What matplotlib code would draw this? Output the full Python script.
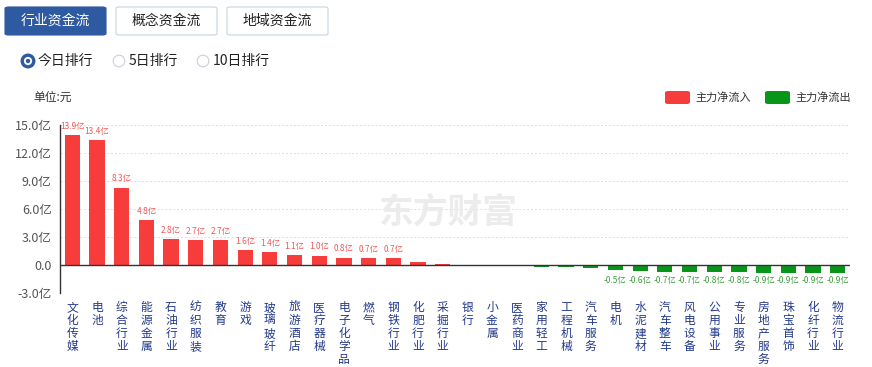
import matplotlib.pyplot as plt
from matplotlib.patches import FancyBboxPatch, Circle
from matplotlib.ticker import FuncFormatter, FixedLocator

plt.rcParams['font.family'] = ['Noto Sans CJK SC', 'DejaVu Sans']

# --- data ---
industries = ['文化传媒', '电池', '综合行业', '能源金属', '石油行业', '纺织服装', '教育', '游戏',
              '玻璃玻纤', '旅游酒店', '医疗器械', '电子化学品', '燃气', '钢铁行业', '化肥行业', '采掘行业',
              '银行', '小金属', '医药商业', '家用轻工', '工程机械', '汽车服务', '电机', '水泥建材',
              '汽车整车', '风电设备', '公用事业', '专业服务', '房地产服务', '珠宝首饰', '化纤行业', '物流行业']
net_flow = [13.9, 13.4, 8.3, 4.8, 2.8, 2.7, 2.7, 1.6,
            1.4, 1.1, 1.0, 0.8, 0.7, 0.7, 0.35, 0.15,
            0.03, 0.01, -0.05, -0.2, -0.25, -0.35, -0.5, -0.6,
            -0.7, -0.7, -0.8, -0.8, -0.9, -0.9, -0.9, -0.9]
y_ticks = [-3, 0, 3, 6, 9, 12, 15]
tabs = ['行业资金流', '概念资金流', '地域资金流']
ranks = ['今日排行', '5日排行', '10日排行']

red = '#f73c3c'
green = '#08961a'

fig = plt.figure(figsize=(8.72, 3.67), dpi=100)
W, H = 872, 367

def fx(px):
    return px / W

def fy(py):
    return 1 - py / H

# --- top tabs ---
tab_x = [5, 116, 227]
for i, (t, x0) in enumerate(zip(tabs, tab_x)):
    active = i == 0
    box = FancyBboxPatch((fx(x0), fy(35)), fx(101), 28 / H,
                         boxstyle='round,pad=0,rounding_size=0.004',
                         transform=fig.transFigure,
                         facecolor='#2d5aa0' if active else 'white',
                         edgecolor='#2d5aa0' if active else '#c9d3e0', linewidth=0.8)
    fig.patches.append(box)
    fig.text(fx(x0 + 50.5), fy(21), t, ha='center', va='center', fontsize=10,
             color='white' if active else '#222222')

# --- radio buttons (drawn in inches so they stay round) ---
radio_x = [28, 119, 203]
for i, (r, x0) in enumerate(zip(ranks, radio_x)):
    cx, cy = x0 / 100, (H - 61) / 100
    fig.patches.append(Circle((cx, cy), 0.058, transform=fig.dpi_scale_trans,
                              facecolor='white', edgecolor='#2d5aa0' if i == 0 else '#c8d0dc',
                              linewidth=2.4 if i == 0 else 0.8))
    if i == 0:
        fig.patches.append(Circle((cx, cy), 0.022, transform=fig.dpi_scale_trans,
                                  facecolor='#2d5aa0', edgecolor='none'))
    fig.text(fx(x0 + 10), fy(61), r, ha='left', va='center', fontsize=10, color='#222222')

fig.text(fx(33), fy(97), '单位:元', ha='left', va='center', fontsize=8.5, color='#333333')

# --- legend ---
for x0, col, lab in [(665, red, '主力净流入'), (765, green, '主力净流出')]:
    fig.patches.append(FancyBboxPatch((fx(x0), fy(104)), fx(25), 13 / H,
                                      boxstyle='round,pad=0,rounding_size=0.004',
                                      transform=fig.transFigure, facecolor=col, edgecolor='none'))
    fig.text(fx(x0 + 30), fy(97.5), lab, ha='left', va='center', fontsize=8, color='#333333')

# --- watermark ---
fig.text(fx(448), fy(212), '东方财富', ha='center', va='center', fontsize=25,
         fontweight='bold', color='#ececec', zorder=0)

# --- chart ---
ax = fig.add_axes([fx(60), fy(293), fx(790), (293 - 125) / H])
x = list(range(len(industries)))
colors = [red if v >= 0 else green for v in net_flow]
ax.bar(x, net_flow, width=0.62, color=colors, zorder=3)

for xi, v in zip(x, net_flow):
    if abs(v) < 0.5:
        continue
    if v > 0:
        ax.annotate(f'{v:.1f}亿', (xi, v), xytext=(0, 3), textcoords='offset points',
                    ha='center', va='bottom', fontsize=6, color='#f05a5a')
    else:
        ax.annotate(f'{v:.1f}亿', (xi, -0.9), xytext=(0, -2), textcoords='offset points',
                    ha='center', va='top', fontsize=6, color='#3c9c3c')

ax.set_xlim(-0.5, len(industries) - 0.5)
ax.set_ylim(-3, 15)
ax.yaxis.set_major_locator(FixedLocator(y_ticks))
ax.yaxis.set_major_formatter(FuncFormatter(lambda v, p: '0.0' if v == 0 else f'{v:.1f}亿'))
ax.tick_params(axis='y', length=0, labelsize=9, colors='#555555', pad=6)
for t in y_ticks:
    if t != 0:
        ax.axhline(t, color='#dddddd', linestyle=(0, (2, 2)), linewidth=0.7, zorder=1)
ax.axhline(0, color='#333333', linewidth=1.0, zorder=4)

ax.set_xticks(x)
ax.set_xticklabels(['\n'.join(n) for n in industries], fontsize=8.5, color='#233a8c',
                   linespacing=1.0, va='top')
ax.tick_params(axis='x', length=0, pad=6)

for s in ['top', 'right', 'bottom']:
    ax.spines[s].set_visible(False)
ax.spines['left'].set_color('#333333')
ax.spines['left'].set_linewidth(1.0)
ax.set_facecolor('none')

fig.savefig('out.png', dpi=100)
